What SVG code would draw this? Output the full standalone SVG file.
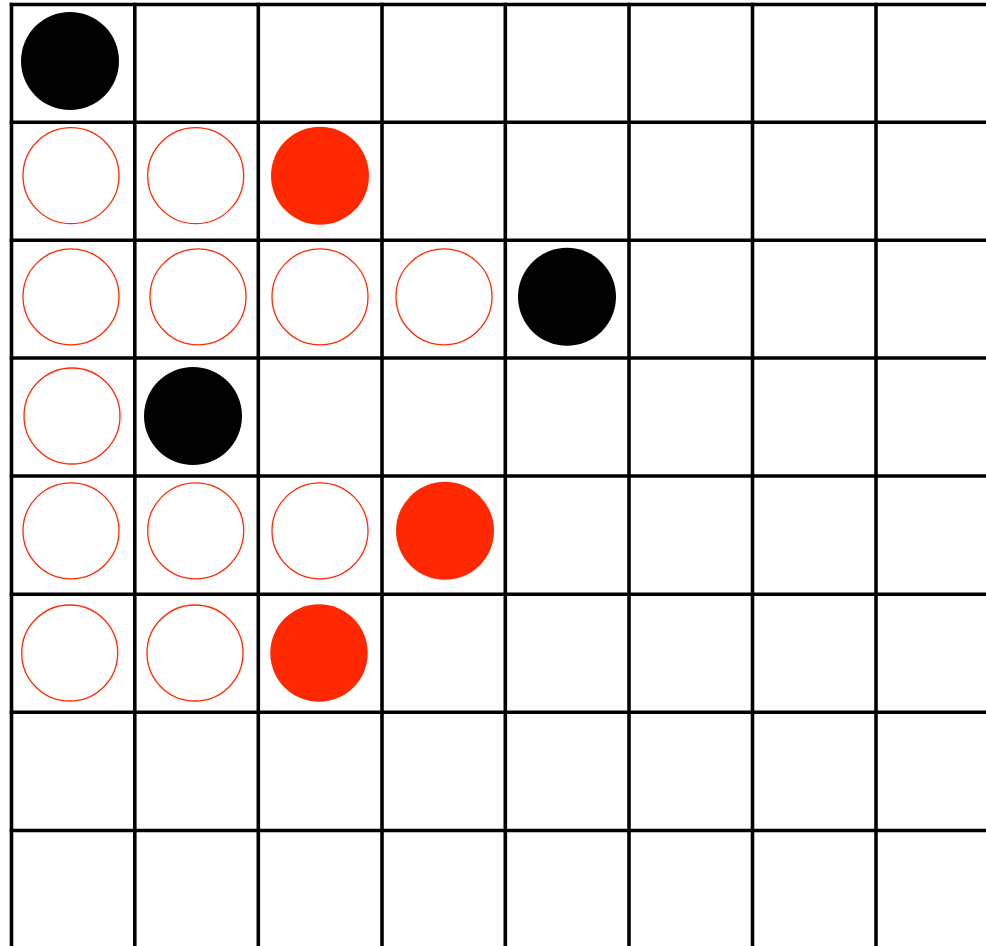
<svg xmlns="http://www.w3.org/2000/svg" width="986" height="946" viewBox="0 0 986 946">
<style>
.grid line{stroke:#000;stroke-width:3.6;stroke-linecap:square}
.empty{fill:#fff;stroke:#ff2a00;stroke-width:1.3}
.red{fill:#ff2800}
.black{fill:#000}
</style>
<rect width="986" height="946" fill="#fff"/>
<g id="grid" class="grid">
<line x1="11.5" y1="4.5" x2="11.5" y2="950"/>
<line x1="134.8" y1="4.5" x2="134.8" y2="950"/>
<line x1="258.3" y1="4.5" x2="258.3" y2="950"/>
<line x1="382" y1="4.5" x2="382" y2="950"/>
<line x1="505.3" y1="4.5" x2="505.3" y2="950"/>
<line x1="629" y1="4.5" x2="629" y2="950"/>
<line x1="752.5" y1="4.5" x2="752.5" y2="950"/>
<line x1="876" y1="4.5" x2="876" y2="950"/>
<line x1="11.5" y1="4.5" x2="990" y2="4.5"/>
<line x1="11.5" y1="122.2" x2="990" y2="122.2"/>
<line x1="11.5" y1="240.2" x2="990" y2="240.2"/>
<line x1="11.5" y1="358" x2="990" y2="358"/>
<line x1="11.5" y1="476" x2="990" y2="476"/>
<line x1="11.5" y1="594.3" x2="990" y2="594.3"/>
<line x1="11.5" y1="712.3" x2="990" y2="712.3"/>
<line x1="11.5" y1="830.5" x2="990" y2="830.5"/>
</g>
<g id="pieces">
<circle id="r0c0" class="black" cx="70" cy="61" r="49"/>
<circle id="r1c0" class="empty" cx="71" cy="175.7" r="48"/>
<circle id="r1c1" class="empty" cx="195.7" cy="175.7" r="48"/>
<circle id="r1c2" class="red" cx="320" cy="175.7" r="49"/>
<circle id="r2c0" class="empty" cx="71" cy="296.8" r="48"/>
<circle id="r2c1" class="empty" cx="198" cy="296.8" r="48"/>
<circle id="r2c2" class="empty" cx="320" cy="296.8" r="48"/>
<circle id="r2c3" class="empty" cx="444" cy="296.8" r="48"/>
<circle id="r2c4" class="black" cx="567" cy="296.8" r="49"/>
<circle id="r3c0" class="empty" cx="72" cy="416" r="48"/>
<circle id="r3c1" class="black" cx="193" cy="416" r="49"/>
<circle id="r4c0" class="empty" cx="71" cy="530.8" r="48"/>
<circle id="r4c1" class="empty" cx="195.7" cy="530.8" r="48"/>
<circle id="r4c2" class="empty" cx="320" cy="530.8" r="48"/>
<circle id="r4c3" class="red" cx="445" cy="530.8" r="49"/>
<circle id="r5c0" class="empty" cx="69.7" cy="653" r="48"/>
<circle id="r5c1" class="empty" cx="195" cy="653" r="48"/>
<circle id="r5c2" class="red" cx="319" cy="653" r="48.7"/>
</g>
</svg>
